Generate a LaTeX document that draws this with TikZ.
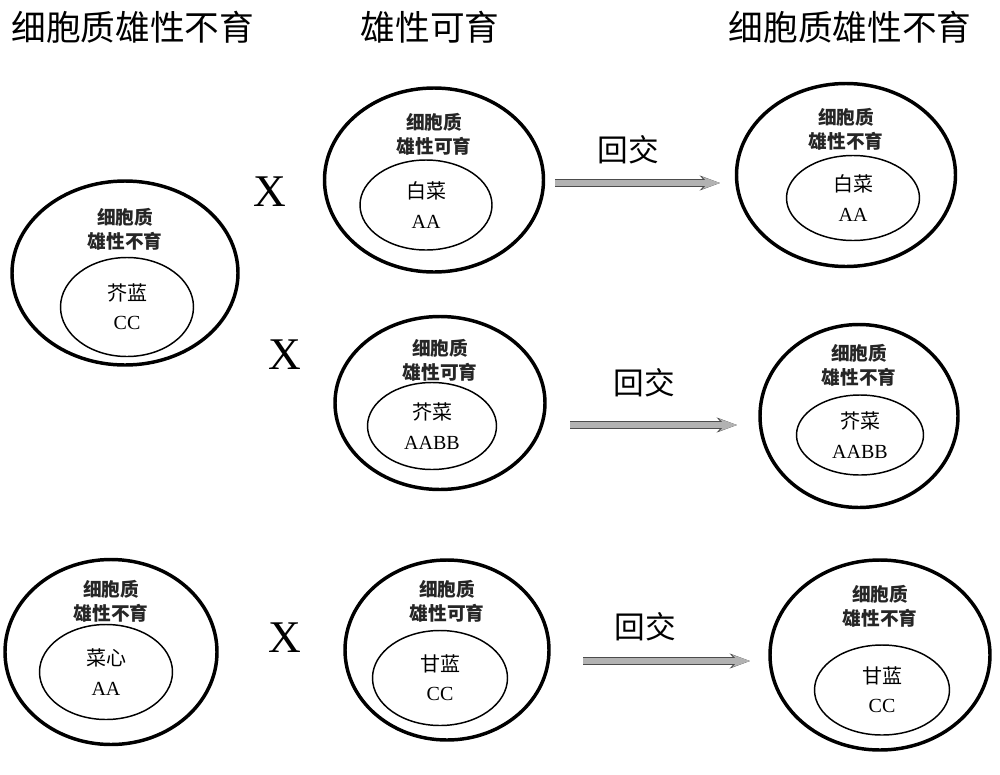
\documentclass[tikz,border=0pt]{standalone}
\usepackage{fontspec}
\setmainfont{Liberation Serif}
\newfontfamily\cjk{Noto Sans CJK SC}
\usetikzlibrary{shapes.geometric,arrows.meta}

\tikzset{
    dims/.style 2 args={minimum width=#1*0.75pt, minimum height=#2*0.75pt},
    outer/.style={draw, ellipse, line width=2.6pt, inner sep=0pt},
    inner/.style={draw, ellipse, line width=1.1pt, inner sep=0pt},
    plasm/.style={font=\cjk\bfseries\fontsize{14}{18}\selectfont, align=center, text=black!85},
    kind/.style={font=\fontsize{15}{22}\selectfont, align=center},
    head/.style={font=\cjk\fontsize{26}{30}\selectfont},
    cross/.style={font=\fontsize{34}{34}\selectfont},
    backlabel/.style={font=\cjk\fontsize{23}{26}\selectfont},
    backcross/.style={draw=gray!60, line width=4pt, -{Stealth[length=13pt, width=9pt]},
        preaction={draw=black!70, line width=6pt, -{Stealth[length=15pt, width=11pt]}}}
}
\newcommand{\cj}[1]{{\cjk #1}}

\begin{document}
\begin{tikzpicture}[x=0.75pt, y=-0.75pt]
    \useasboundingbox (0,0) rectangle (1000,775);

    % column heads
    \node [head] (h1) at (133,27) {细胞质雄性不育};
    \node [head] (h2) at (430,27) {雄性可育};
    \node [head] (h3) at (850,27) {细胞质雄性不育};

    % first row
    \node [outer, dims={226}{184}] (tl) at (125,273) {};
    \node [plasm] (tlp) at (125,229) {细胞质\\雄性不育};
    \node [inner, dims={133}{99}, kind] (tli) at (127,307) {\cj{芥蓝}\\CC};

    \node [outer, dims={219}{184}] (tm) at (434,180) {};
    \node [plasm] (tmp) at (434,134) {细胞质\\雄性可育};
    \node [inner, dims={132}{90}, kind] (tmi) at (426,205) {\cj{白菜}\\AA};

    \node [outer, dims={219}{183}] (tr) at (846,175) {};
    \node [plasm] (trp) at (846,129) {细胞质\\雄性不育};
    \node [inner, dims={133}{85}, kind] (tri) at (853,198) {\cj{白菜}\\AA};

    % second row
    \node [outer, dims={210}{173}] (mm) at (440,403) {};
    \node [plasm] (mmp) at (440,360) {细胞质\\雄性可育};
    \node [inner, dims={129}{87}, kind] (mmi) at (432,426) {\cj{芥菜}\\AABB};

    \node [outer, dims={198}{183}] (mr) at (859,416) {};
    \node [plasm] (mrp) at (859,365) {细胞质\\雄性不育};
    \node [inner, dims={127}{80}, kind] (mri) at (860,435) {\cj{芥菜}\\AABB};

    % third row
    \node [outer, dims={212}{185}] (bl) at (111,652) {};
    \node [plasm] (blp) at (111,601) {细胞质\\雄性不育};
    \node [inner, dims={133}{95}, kind] (bli) at (106,672) {\cj{菜心}\\AA};

    \node [outer, dims={204}{180}] (bm) at (447,650) {};
    \node [plasm] (bmp) at (447,601) {细胞质\\雄性可育};
    \node [inner, dims={135}{95}, kind] (bmi) at (440,678) {\cj{甘蓝}\\CC};

    \node [outer, dims={220}{190}] (br) at (880,655) {};
    \node [plasm] (brp) at (880,606) {细胞质\\雄性不育};
    \node [inner, dims={135}{90}, kind] (bri) at (882,690) {\cj{甘蓝}\\CC};

    % crosses
    \node [cross] (x1) at (270,192) {X};
    \node [cross] (x2) at (285,355) {X};
    \node [cross] (x3) at (285,638) {X};

    % backcrosses
    \coordinate (s1) at (555,183);
    \coordinate (e1) at (720,183);
    \coordinate (s2) at (570,425);
    \coordinate (e2) at (737,425);
    \coordinate (s3) at (583,661);
    \coordinate (e3) at (750,661);
    \draw [backcross] (s1) -- (e1);
    \draw [backcross] (s2) -- (e2);
    \draw [backcross] (s3) -- (e3);
    \node [backlabel] (b1) at (628,150) {回交};
    \node [backlabel] (b2) at (644,383) {回交};
    \node [backlabel] (b3) at (645,627) {回交};
\end{tikzpicture}
\end{document}
